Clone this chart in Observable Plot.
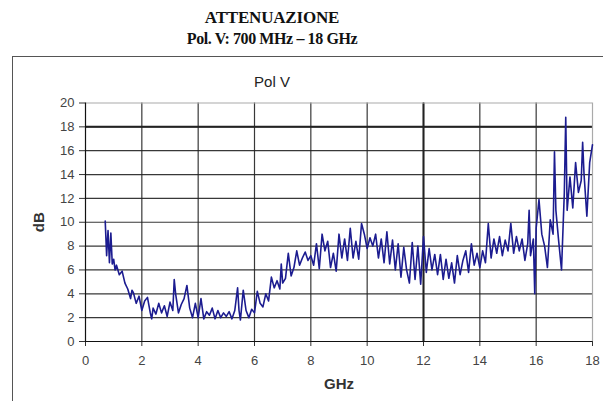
<!DOCTYPE html>
<html>
<head>
<meta charset="utf-8">
<script src="https://cdn.jsdelivr.net/npm/d3@7"></script>
<script src="https://cdn.jsdelivr.net/npm/@observablehq/plot@0.6"></script>
<style>
  html, body { margin: 0; padding: 0; background: #fff; }
  #page { position: relative; width: 603px; height: 401px; overflow: hidden; background: #fff; }
  .t { position: absolute; left: 72px; width: 400px; text-align: center;
       font-family: "Liberation Serif", "Times New Roman", serif; font-weight: bold;
       color: #111; line-height: 1; }
  #box { position: absolute; left: 12px; top: 56px; width: 640px; height: 420px;
         border: 1.5px solid #555; box-sizing: border-box; }
  #sub { position: absolute; left: 172px; width: 200px; top: 74px; text-align: center;
         font-family: "Liberation Sans", Arial, sans-serif; font-size: 15px; color: #222; line-height: 1; }
  #chart { position: absolute; left: 0; top: 90px; }
  #chart g[aria-label="x-axis label"] text, #chart g[aria-label="y-axis label"] text { font-weight: bold; font-size: 15px; fill: #333; }
  #chart g[aria-label="x-axis tick label"] text, #chart g[aria-label="y-axis tick label"] text { fill: #444; }
</style>
</head>
<body>
<div id="page">
  <div class="t" style="top:9px;font-size:17px;letter-spacing:-0.2px">ATTENUAZIONE</div>
  <div class="t" style="top:31px;font-size:16px;letter-spacing:-0.4px">Pol. V: 700 MHz – 18 GHz</div>
  <div id="box"></div>
  <div id="sub">Pol V</div>
  <div id="chart"></div>
</div>
<script>
const xTicks = [0, 2, 4, 6, 8, 10, 12, 14, 16, 18];
const yTicks = [0, 2, 4, 6, 8, 10, 12, 14, 16, 18, 20];

const freq = [0.7,0.75,0.8,0.85,0.9,0.95,1.0,1.05,1.1,1.2,1.3,1.4,1.5,1.6,1.65,1.7,1.8,1.9,
  2.0,2.1,2.2,2.3,2.35,2.4,2.5,2.6,2.7,2.8,2.9,3.0,3.1,3.15,3.2,3.3,3.4,3.5,3.6,3.7,3.8,3.9,
  4.0,4.1,4.2,4.3,4.4,4.5,4.6,4.7,4.8,4.9,5.0,5.1,5.2,5.3,5.4,5.45,5.5,5.6,5.7,5.8,5.9,
  6.0,6.1,6.2,6.3,6.4,6.5,6.6,6.7,6.8,6.9,6.95,7.0,7.1,7.2,7.3,7.4,7.5,7.6,7.7,7.8,7.9,
  8.0,8.1,8.2,8.3,8.4,8.5,8.6,8.7,8.8,8.9,9.0,9.1,9.2,9.3,9.4,9.5,9.6,9.7,9.8,9.9,
  10.0,10.1,10.2,10.3,10.4,10.5,10.6,10.7,10.8,10.9,11.0,11.1,11.2,11.3,11.4,11.5,11.6,11.7,11.8,11.9,
  12.0,12.1,12.2,12.3,12.4,12.5,12.6,12.7,12.8,12.9,13.0,13.1,13.2,13.3,13.4,13.5,13.6,13.7,13.8,13.9,
  14.0,14.1,14.2,14.3,14.4,14.5,14.6,14.7,14.8,14.9,15.0,15.1,15.2,15.3,15.4,15.5,15.6,15.7,15.75,15.8,15.9,15.95,
  16.0,16.1,16.2,16.3,16.4,16.5,16.6,16.65,16.7,16.8,16.9,17.0,17.05,17.1,17.2,17.3,17.4,17.5,17.6,17.65,17.7,17.8,17.9,18.0];

const dB = [10.1,7.2,9.3,6.6,9.1,6.5,6.9,6.0,6.4,5.6,5.9,4.9,4.4,3.6,4.3,4.1,3.2,3.8,
  2.6,3.4,3.7,2.4,1.9,2.8,2.3,3.2,2.4,3.0,2.1,3.3,2.6,5.2,4.0,2.4,3.1,3.6,4.7,2.8,2.0,3.2,
  2.0,3.6,1.9,2.5,2.2,2.8,1.9,2.6,2.0,2.4,2.1,2.5,1.9,2.6,4.5,2.6,1.8,4.3,2.6,2.0,2.7,
  2.4,4.2,3.2,2.9,4.0,3.4,5.4,4.5,5.1,4.4,6.5,4.9,5.3,7.4,5.5,6.2,7.6,6.4,7.0,7.5,6.8,
  7.2,6.4,8.2,6.1,9.0,7.6,8.4,6.2,7.4,5.9,9.0,7.0,8.6,6.8,9.5,7.0,8.4,6.9,9.9,9.0,
  7.8,8.7,8.0,9.0,7.0,8.6,6.6,9.2,6.5,8.5,6.0,8.2,5.4,7.9,6.0,4.9,8.3,5.2,8.0,4.8,
  8.8,5.8,7.8,6.0,7.3,5.6,7.3,5.2,6.9,5.3,6.6,4.9,7.2,5.6,6.8,7.6,5.8,8.2,6.4,7.4,
  6.2,7.6,6.6,9.9,7.0,8.6,7.4,8.8,7.2,8.5,7.6,9.9,7.4,8.8,7.6,8.6,6.8,8.2,11.0,7.2,8.6,4.0,
  9.5,11.9,9.0,8.0,6.2,10.2,9.0,15.9,11.0,8.4,6.0,12.5,18.8,11.0,13.8,11.2,15.0,12.5,13.5,16.7,14.0,10.5,15.0,16.5];

const data = freq.map((f, i) => ({ f, v: dB[i] }));

const chart = Plot.plot({
  width: 603,
  height: 310,
  marginLeft: 85,
  marginRight: 11,
  marginTop: 12.5,
  marginBottom: 59,
  x: { domain: [0, 18] },
  y: { domain: [0, 20] },
  style: { fontFamily: "'Liberation Sans', Arial, sans-serif", fontSize: "13px", color: "#333", background: "transparent" },
  marks: [
    Plot.gridY(yTicks.filter(d => d > 0 && d < 20), { stroke: "#222", strokeOpacity: 0.9, strokeWidth: 1.2 }),
    Plot.gridX(xTicks.filter(d => d > 0 && d < 18), { stroke: "#222", strokeOpacity: 0.9, strokeWidth: 1.2 }),
    Plot.ruleY([18], { stroke: "#222", strokeWidth: 2 }),
    Plot.ruleX([12], { stroke: "#222", strokeWidth: 2 }),
    Plot.ruleY([20], { stroke: "#aaa", strokeWidth: 1.2 }),
    Plot.ruleX([18], { stroke: "#aaa", strokeWidth: 1.2 }),
    Plot.line(data, { x: "f", y: "v", stroke: "#1c1c90", strokeWidth: 1.6 }),
    Plot.axisY({ ticks: yTicks, tickSize: 6, tickPadding: 5, label: "dB", labelAnchor: "center", labelArrow: "none", labelOffset: 52, fontSize: 13 }),
    Plot.axisX({ ticks: xTicks, tickSize: 5, tickPadding: 9, label: "GHz", labelAnchor: "center", labelArrow: "none", labelOffset: 47, fontSize: 13 }),
    Plot.ruleY([0], { stroke: "#111", strokeWidth: 1.2 }),
    Plot.ruleX([0], { stroke: "#111", strokeWidth: 1.2 })
  ]
});
document.getElementById("chart").appendChild(chart);
</script>
</body>
</html>
